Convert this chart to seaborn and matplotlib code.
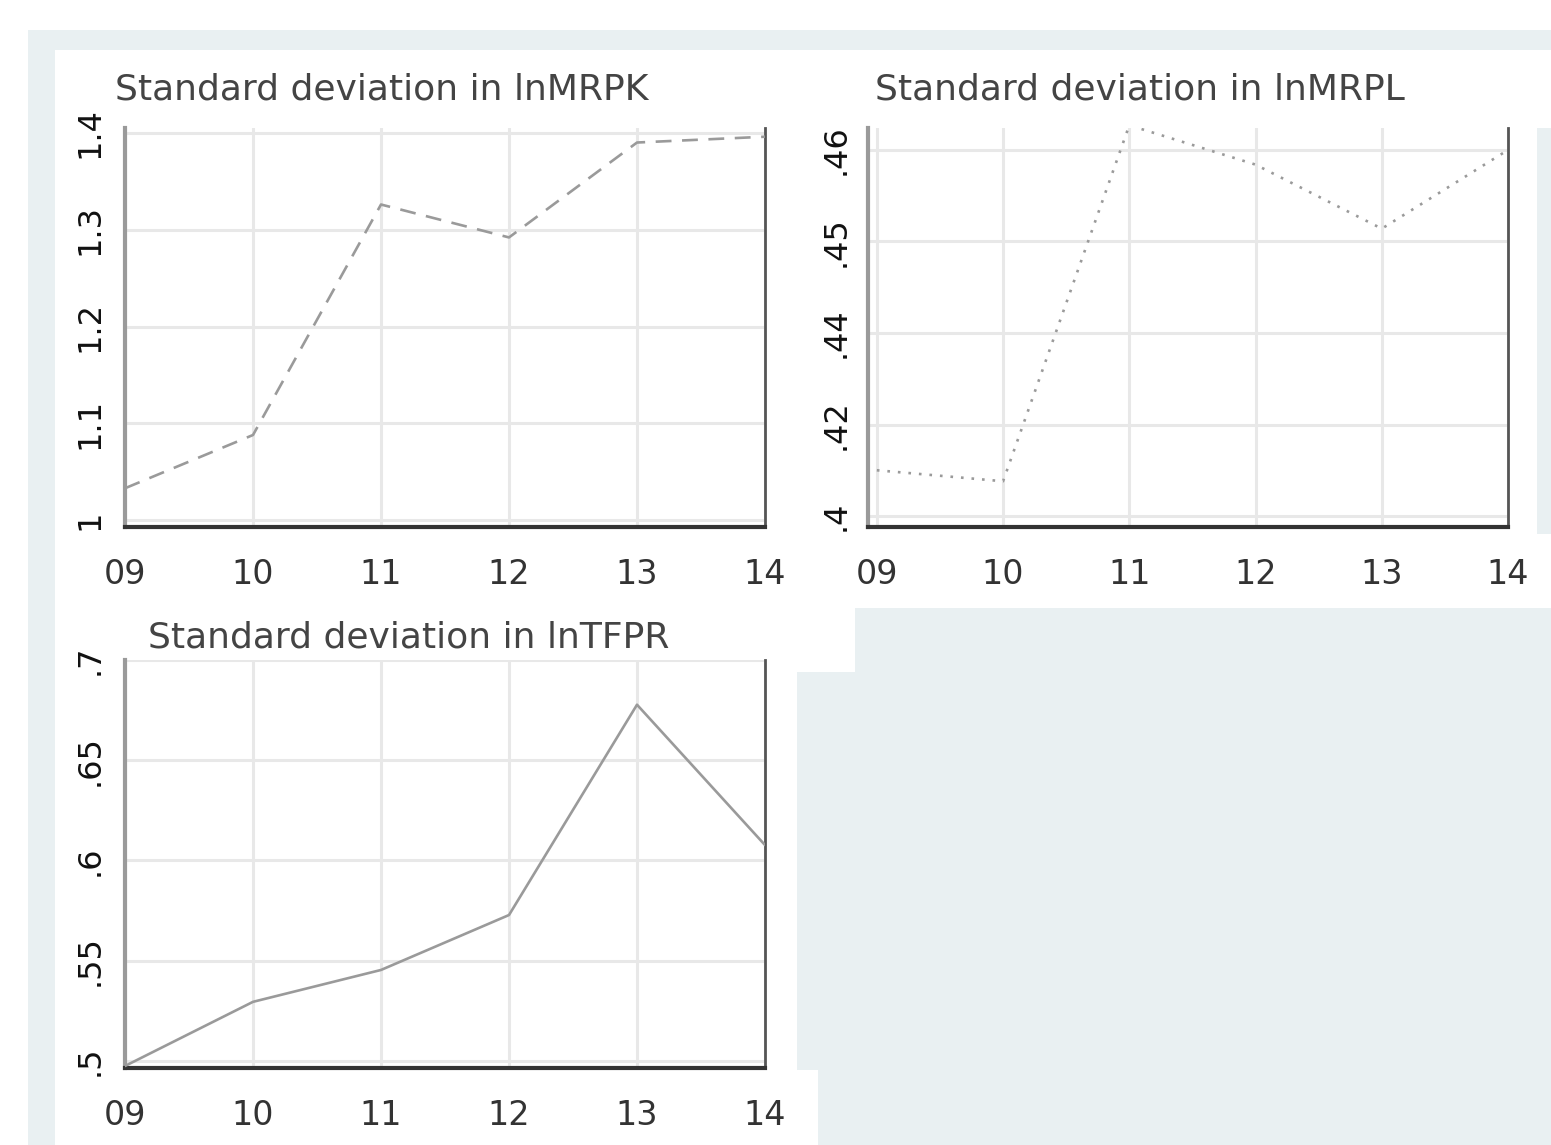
import matplotlib
matplotlib.use("Agg")
import matplotlib.pyplot as plt
from matplotlib.patches import Rectangle
import seaborn as sns
import pandas as pd

# data
years = [2009, 2010, 2011, 2012, 2013, 2014]
year_labels = ["09", "10", "11", "12", "13", "14"]
sd_mrpk = [1.033, 1.088, 1.326, 1.292, 1.390, 1.396]
sd_mrpl = [0.4250, 0.4238, 0.4627, 0.4584, 0.4514, 0.4600]
sd_tfpr = [0.4975, 0.5295, 0.5454, 0.5728, 0.6777, 0.6077]

mrpk_ticks = [1.0, 1.1, 1.2, 1.3, 1.4]
mrpk_labels = ["1", "1.1", "1.2", "1.3", "1.4"]
mrpl_ticks = [0.42, 0.43, 0.44, 0.45, 0.46]
mrpl_labels = [".4", ".42", ".44", ".45", ".46"]
tfpr_ticks = [0.50, 0.55, 0.60, 0.65, 0.70]
tfpr_labels = [".5", ".55", ".6", ".65", ".7"]

sns.set_style("white")
plt.rcParams["font.family"] = ["DejaVu Sans"]

W, H = 1551, 1145
fig = plt.figure(figsize=(W / 100, H / 100), dpi=100, facecolor="white")

bg = "#e9f0f2"


def px_rect(x0, y0, x1, y1, color):
    # rectangle given in pixel coords from the top-left corner
    fig.add_artist(Rectangle((x0 / W, 1 - y1 / H), (x1 - x0) / W, (y1 - y0) / H,
                             transform=fig.transFigure, facecolor=color,
                             edgecolor="none", zorder=0))


# background pieces of the screenshot
px_rect(28, 30, W, H, bg)
px_rect(55, 50, W, 608, "white")
px_rect(1537, 128, W, 534, bg)
px_rect(55, 608, 855, 672, "white")
px_rect(55, 672, 797, 1070, "white")
px_rect(55, 1070, 818, H, "white")


def add_panel(box, values, ticks, labels, ylim, xlim, title, title_dx, title_dy,
              style, ylab_pad):
    left, top, right, bottom = box
    ax = fig.add_axes([left / W, 1 - bottom / H, (right - left) / W, (bottom - top) / H])
    ax.set_facecolor("none")
    df = pd.DataFrame({"year": years, "sd": values})
    sns.lineplot(data=df, x="year", y="sd", ax=ax, color="#9a9a9a", lw=1.9,
                 linestyle=style, zorder=3)
    ax.set_xlim(*xlim)
    ax.set_ylim(*ylim)
    ax.set_xticks(years)
    ax.set_xticklabels(year_labels, fontsize=24, color="#333333")
    ax.set_yticks(ticks)
    ax.set_yticklabels(labels, fontsize=23, rotation=90, va="center", color="#111111")
    ax.tick_params(axis="x", length=0, pad=22)
    ax.tick_params(axis="y", length=0, pad=ylab_pad)
    ax.set_xlabel("")
    ax.set_ylabel("")
    ax.grid(True, color="#e8e8e8", lw=2.2, zorder=1)
    ax.spines["top"].set_visible(False)
    ax.spines["left"].set_color("#9a9a9a")
    ax.spines["left"].set_linewidth(3)
    ax.spines["bottom"].set_color("#333333")
    ax.spines["bottom"].set_linewidth(3)
    ax.spines["right"].set_color("#555555")
    ax.spines["right"].set_linewidth(2)
    ax.text(title_dx / (right - left), 1 + title_dy / (bottom - top), title,
            transform=ax.transAxes, fontsize=26, color="#444444",
            ha="left", va="center")
    return ax


add_panel((125, 128, 765, 527), sd_mrpk, mrpk_ticks, mrpk_labels,
          (0.993, 1.405), (2009, 2014), "Standard deviation in lnMRPK",
          -10, 38, (0, (6, 4)), 14)
add_panel((868, 128, 1508, 527), sd_mrpl, mrpl_ticks, mrpl_labels,
          (0.4188, 0.4624), (2008.93, 2014), "Standard deviation in lnMRPL",
          7, 38, (0, (1, 3)), 12)
add_panel((125, 660, 765, 1068), sd_tfpr, tfpr_ticks, tfpr_labels,
          (0.4965, 0.7), (2009, 2014), "Standard deviation in lnTFPR",
          23, 23, "-", 14)

fig.savefig("out.png", dpi=100, facecolor="white")
